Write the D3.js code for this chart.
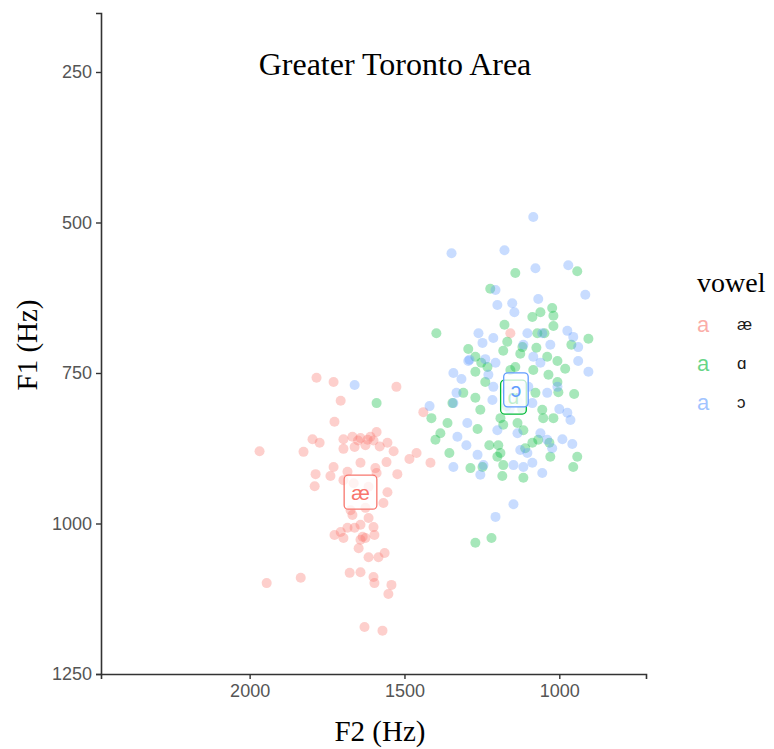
<!DOCTYPE html>
<html>
<head>
<meta charset="utf-8">
<script src="https://cdn.jsdelivr.net/npm/d3@7"></script>
<style>
  body { margin: 0; background: #fff; }
  svg { display: block; }
</style>
</head>
<body>
<script>
/* global d3 */

const vowels = ['æ', 'ɑ', 'ɔ'];
const vowelColors = ['#F8766D', '#00BA38', '#619CFF'];

const xTicks = [2000, 1500, 1000];
const yTicks = [250, 500, 750, 1000, 1250];

// [F2, F1] per token
const aeTokens = [
  [1784, 758], [1729, 765], [1526, 773], [1706, 796], [1726, 831], [1797, 860],
  [1774, 866], [1826, 881], [1968, 880], [1697, 860], [1668, 856], [1642, 858],
  [1619, 861], [1610, 856], [1590, 848], [1626, 870], [1661, 873], [1697, 876],
  [1555, 866], [1535, 880], [1461, 883], [1484, 893], [1416, 899], [1558, 898],
  [1642, 899], [1729, 906], [1594, 908], [1787, 918], [1739, 921], [1684, 914],
  [1523, 918], [1790, 938], [1555, 948], [1568, 966], [1674, 978], [1668, 986],
  [1626, 974], [1616, 991], [1726, 1019], [1706, 1014], [1684, 1007], [1661, 1007],
  [1642, 1002], [1600, 1006], [1597, 1019], [1642, 1027], [1635, 1022], [1626, 1024],
  [1648, 1041], [1697, 1024], [1616, 1056], [1584, 1056], [1564, 1049], [1677, 1082],
  [1642, 1081], [1600, 1089], [1597, 1099], [1542, 1102], [1552, 1117], [1945, 1099],
  [1835, 1090], [1629, 1172], [1571, 1178], [1697, 928], [1664, 933], [1616, 939],
  [1590, 916], [1439, 815], [1158, 684], [1650, 862], [1600, 862], [1580, 872],
];

const ahTokens = [
  [1142, 584], [942, 581], [1223, 610], [1397, 684], [1177, 670], [1087, 657],
  [1061, 649], [1023, 642], [1019, 655], [1019, 672], [1071, 684], [1048, 684],
  [1294, 710], [1271, 723], [1181, 713], [1168, 698], [1119, 707], [1126, 718],
  [1074, 708], [1039, 723], [1006, 730], [981, 743], [961, 703], [906, 693],
  [1252, 733], [1232, 740], [1271, 748], [1239, 765], [1142, 740], [1158, 745],
  [1084, 745], [1035, 753], [1006, 765], [952, 785], [1003, 782], [1077, 783],
  [1310, 783], [1271, 791], [1255, 811], [1361, 833], [1384, 850], [1400, 861],
  [1413, 825], [1264, 843], [1190, 825], [1181, 836], [1135, 833], [1116, 845],
  [1052, 825], [1019, 825], [1055, 811], [1226, 870], [1197, 870], [1190, 883],
  [1355, 883], [1287, 908], [1248, 906], [1200, 889], [1181, 903], [1184, 921],
  [1110, 875], [1087, 866], [1068, 861], [1032, 866], [1029, 889], [942, 889],
  [955, 906], [1116, 924], [1590, 800], [1345, 800], [1271, 1032], [1219, 1024],
  [1150, 780], [1135, 795], [1165, 770], [1120, 810], [1170, 805],
];

const awTokens = [
  [1084, 491], [1348, 551], [1177, 546], [1077, 576], [971, 571], [1206, 612],
  [1200, 637], [1152, 634], [1145, 649], [1068, 627], [1261, 684], [1213, 692],
  [1248, 700], [1103, 684], [1055, 684], [974, 680], [955, 690], [939, 707],
  [939, 730], [1029, 703], [1116, 703], [1290, 728], [1239, 727], [1206, 733],
  [1084, 723], [1061, 733], [1342, 750], [1316, 760], [1229, 753], [1213, 773],
  [1006, 773], [1332, 783], [1216, 795], [1100, 773], [1087, 800], [1039, 783],
  [1419, 805], [1342, 800], [974, 816], [964, 828], [1297, 833], [1329, 856],
  [1200, 845], [1135, 850], [1126, 878], [1103, 883], [1061, 850], [1039, 861],
  [1023, 875], [990, 860], [958, 868], [1264, 886], [1245, 903], [1255, 919],
  [1342, 906], [1148, 903], [1116, 906], [1087, 899], [1055, 916], [1661, 770],
  [1294, 730], [1300, 870], [1206, 989], [1148, 968], [916, 620], [906, 748],
  [1150, 790], [1130, 800], [1170, 780], [1120, 770], [1160, 810], [1000, 810],
];

// vowel means, where the labels sit
const vowelMeans = [[1642, 948], [1148, 790], [1140, 778]];

const width = 774;
const height = 749;

const x = d3.scaleLinear().domain([2480, 720]).range([101, 646]);
const y = d3.scaleLinear().domain([152, 1250]).range([13, 674]);

const svg = d3.select('body').append('svg')
  .attr('width', width)
  .attr('height', height);

const sans = 'Liberation Sans, Arial, sans-serif';
const serif = 'Liberation Serif, Times New Roman, serif';

const tokens = [aeTokens, ahTokens, awTokens];

// points, one group per vowel
tokens.forEach((set, i) => {
  svg.append('g')
    .selectAll('circle').data(set)
    .enter().append('circle')
      .attr('cx', d => x(d[0]))
      .attr('cy', d => y(d[1]))
      .attr('r', 5)
      .attr('fill', vowelColors[i])
      .attr('fill-opacity', 0.35);
});

// mean labels (geom_label look)
const labels = svg.append('g')
  .selectAll('g').data(vowelMeans)
  .enter().append('g')
    .attr('transform', d => `translate(${x(d[0])},${y(d[1])})`);

labels.append('text')
  .attr('text-anchor', 'middle')
  .attr('dy', '0.35em')
  .attr('font-family', sans)
  .attr('font-size', 21)
  .attr('fill', (d, i) => vowelColors[i])
  .text((d, i) => vowels[i])
  .each(function (d, i) {
    const bb = this.getBBox();
    const padX = 7;
    d3.select(this.parentNode).insert('rect', 'text')
      .attr('x', bb.x - padX)
      .attr('y', -17)
      .attr('width', bb.width + padX * 2)
      .attr('height', 34)
      .attr('rx', 4)
      .attr('fill', '#fff')
      .attr('fill-opacity', 0.75)
      .attr('stroke', vowelColors[i])
      .attr('stroke-width', 1.3);
  });

// axes
const axisColor = '#333';
const tickColor = '#555';

const yAxis = svg.append('g')
  .attr('transform', 'translate(101,0)')
  .call(d3.axisLeft(y).tickValues(yTicks).tickFormat(d3.format('d'))
    .tickSize(5).tickPadding(4));
const xAxis = svg.append('g')
  .attr('transform', 'translate(0,674)')
  .call(d3.axisBottom(x).tickValues(xTicks).tickFormat(d3.format('d'))
    .tickSize(5).tickPadding(5));

[xAxis, yAxis].forEach(g => {
  g.select('.domain').attr('stroke', axisColor).attr('stroke-width', 1.6);
  g.selectAll('.tick line').attr('stroke', axisColor).attr('stroke-width', 1.4);
  g.selectAll('.tick text')
    .attr('fill', tickColor)
    .attr('font-family', sans)
    .attr('font-size', 18);
});

// titles
svg.append('text')
  .attr('x', 395).attr('y', 75)
  .attr('text-anchor', 'middle')
  .attr('font-family', serif)
  .attr('font-size', 32)
  .attr('fill', '#000')
  .text('Greater Toronto Area');

svg.append('text')
  .attr('x', 380).attr('y', 741)
  .attr('text-anchor', 'middle')
  .attr('font-family', serif)
  .attr('font-size', 29)
  .attr('fill', '#000')
  .text('F2 (Hz)');

svg.append('text')
  .attr('transform', 'translate(37,345) rotate(-90)')
  .attr('text-anchor', 'middle')
  .attr('font-family', serif)
  .attr('font-size', 29)
  .attr('fill', '#000')
  .text('F1 (Hz)');

// legend
const legend = svg.append('g').attr('transform', 'translate(697,0)');

legend.append('text')
  .attr('x', 0).attr('y', 292)
  .attr('font-family', serif)
  .attr('font-size', 28)
  .attr('fill', '#000')
  .text('vowel');

const keys = legend.selectAll('g.key').data(vowels)
  .enter().append('g')
    .attr('class', 'key')
    .attr('transform', (d, i) => `translate(0,${324 + i * 39})`);

keys.append('text')
  .attr('x', 0)
  .attr('dy', '0.35em')
  .attr('font-family', sans)
  .attr('font-size', 22)
  .attr('fill', (d, i) => vowelColors[i])
  .attr('fill-opacity', 0.6)
  .text('a');

keys.append('text')
  .attr('x', 40)
  .attr('dy', '0.35em')
  .attr('font-family', sans)
  .attr('font-size', 17)
  .attr('fill', '#1a1a1a')
  .text(d => d);
</script>
</body>
</html>
